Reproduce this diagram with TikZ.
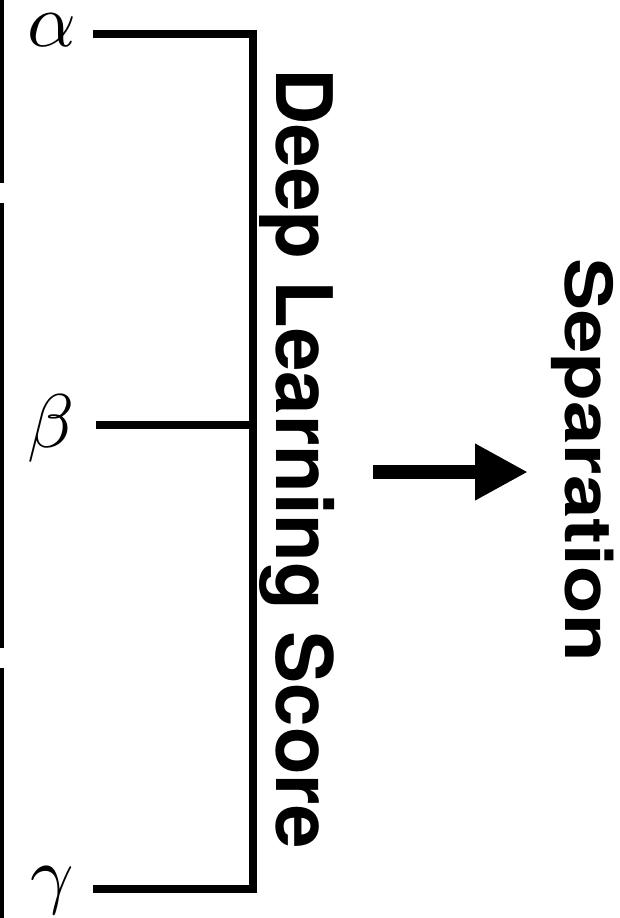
\documentclass[tikz,border=0pt]{standalone}
\usepackage{fontspec}
\usepackage{graphicx}
\newfontfamily\heros{TeX Gyre Heros}
\usetikzlibrary{arrows.meta}
\tikzset{
  >={Triangle[length=26.5pt,width=26.5pt]},
  bar/.style={line width=4pt},
  edge/.style={line width=4pt,line cap=rect},
  greek/.style={anchor=base,inner sep=0pt},
  vlabel/.style={rotate=-90,anchor=base west,inner sep=0pt,
    font=\heros\bfseries\fontsize{#1}{#1}\selectfont},
  flow/.style={->,line width=7pt},
}
\newcommand{\bigsym}[1]{\scalebox{3.8}{$#1$}}

\begin{document}
\begin{tikzpicture}[x=0.5pt,y=-0.5pt]
  \useasboundingbox (0,0) rectangle (620,918);
  % split bar on the left
  \foreach \a/\b in {0/183,203/648,668/918}
    \draw[bar] (0,\a) -- (0,\b);
  % inputs
  \node[greek] (a) at (52,46) {\bigsym{\alpha}};
  \node[greek] (b) at (51,447) {\bigsym{\beta}};
  \node[greek] (g) at (52,899) {\bigsym{\gamma}};
  \coordinate (a0) at (97,34);
  \coordinate (b0) at (100,425);
  \coordinate (g0) at (97,889);
  \coordinate (ta) at (253,34);
  \coordinate (tb) at (253,425);
  \coordinate (tg) at (253,889);
  \draw[edge] (a0) -- (ta) -- (tg) -- (g0);
  \draw[edge] (b0) -- (tb);
  % labels
  \node[vlabel=39] (dls) at (276,68) {Deep Learning Score};
  \node[vlabel=32.5] (sep) at (565,258) {\scalebox{1.2}[1]{Separation}};
  \coordinate (s0) at (373,472);
  \coordinate (s1) at (528,472);
  \draw[flow] (s0) -- (s1);
\end{tikzpicture}
\end{document}
